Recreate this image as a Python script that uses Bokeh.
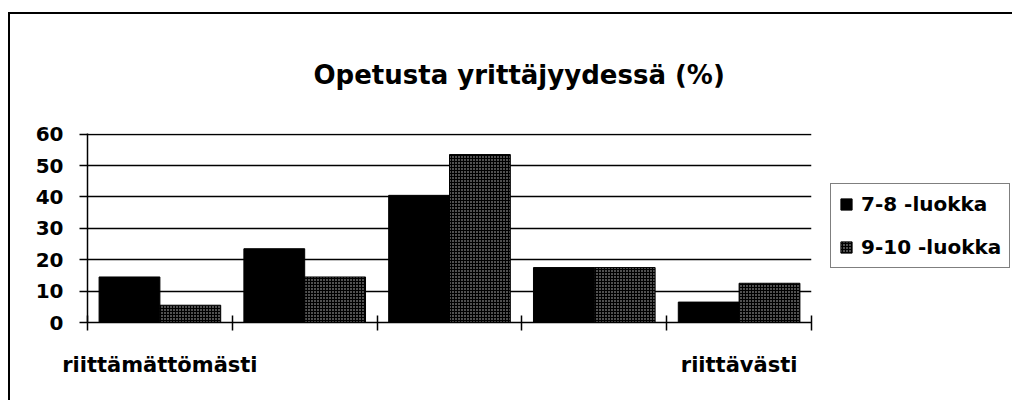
from bokeh.plotting import figure
from bokeh.models import (Legend, LegendItem, FixedTicker, Range1d,
                          ColumnDataSource, LinearAxis, Title)
from bokeh.layouts import row
from bokeh.transform import dodge
from bokeh.embed import file_html
from bokeh.resources import INLINE

# ---- data ----
categories = ["riittämättömästi", "", "", "", "riittävästi"]
series_names = ["7-8 -luokka", "9-10 -luokka"]
grade_7_8 = [14.5, 23.5, 40.5, 17.5, 6.5]
grade_9_10 = [5.5, 14.5, 53.5, 17.5, 12.5]
y_ticks = [0, 10, 20, 30, 40, 50, 60]
title_text = "Opetusta yrittäjyydessä (%)"

FONT = "DejaVu Sans"
BAR_A = dict(fill_color="black", line_color="black", line_width=1)
BAR_B = dict(fill_color="black", line_color="black", line_width=1,
             hatch_pattern="dot", hatch_color="#c8c8c8", hatch_scale=3,
             hatch_weight=1)

n = len(categories)
centers = [i + 0.5 for i in range(n)]
boundaries = list(range(n + 1))
src = ColumnDataSource(dict(x=centers, a=grade_7_8, b=grade_9_10))

# ---------------- main chart ----------------
p = figure(width=803, height=386, title=None,
           x_range=Range1d(0, n), y_range=Range1d(0, 60.2),
           x_axis_location=None,
           output_backend="svg", toolbar_location=None,
           min_border_left=77, min_border_right=2,
           min_border_top=117, min_border_bottom=78)
p.outline_line_color = None
p.background_fill_color = "white"
p.border_fill_color = "white"

title = Title(text=title_text, align="left", offset=226, standoff=87,
              text_font=FONT, text_font_style="bold", text_font_size="26px",
              text_color="black")
p.add_layout(title, "above")

p.vbar(x=dodge("x", -0.21, range=p.x_range), top="a", width=0.42,
       source=src, **BAR_A)
p.vbar(x=dodge("x", 0.21, range=p.x_range), top="b", width=0.42,
       source=src, **BAR_B)

# grid
p.xgrid.visible = False
p.ygrid.ticker = FixedTicker(ticks=y_ticks)
p.ygrid.grid_line_color = "black"
p.ygrid.grid_line_width = 1.3

# y axis
p.yaxis.ticker = FixedTicker(ticks=y_ticks)
p.yaxis.major_label_text_font = FONT
p.yaxis.major_label_text_font_style = "bold"
p.yaxis.major_label_text_font_size = "20px"
p.yaxis.major_label_text_color = "black"
p.yaxis.major_tick_out = 8
p.yaxis.major_tick_in = 0
p.yaxis.minor_tick_out = 0
p.yaxis.minor_tick_in = 0
p.yaxis.major_label_standoff = 16
p.yaxis.axis_line_color = "black"
p.yaxis.axis_line_width = 1.5
p.yaxis.major_tick_line_width = 1.5

# x axis: labels under category centres, tick marks at category boundaries
labelled = [(x, c) for x, c in zip(centers, categories) if c]
xaxis = LinearAxis(
    ticker=FixedTicker(ticks=[x for x, _ in labelled], minor_ticks=boundaries),
    major_label_overrides={x: c for x, c in labelled},
    major_tick_in=0, major_tick_out=0,
    minor_tick_in=7, minor_tick_out=8,
    minor_tick_line_color="black", minor_tick_line_width=1.5,
    axis_line_color="black", axis_line_width=1.5,
    major_label_standoff=22,
    major_label_text_font=FONT, major_label_text_font_style="bold",
    major_label_text_font_size="21px", major_label_text_color="black")
p.add_layout(xaxis, "below")

# ---------------- legend panel ----------------
# legend swatches reuse the series source; the ranges keep the bars out of view
leg = figure(width=199, height=386, output_backend="svg",
             toolbar_location=None, x_axis_location=None,
             y_axis_location=None, min_border_left=0, min_border_right=0,
             min_border_top=0, min_border_bottom=0,
             x_range=Range1d(-20, -19), y_range=Range1d(-20, -19))
leg.outline_line_color = None
leg.xgrid.visible = False
leg.ygrid.visible = False
leg.background_fill_color = "white"
leg.border_fill_color = "white"
k1 = leg.vbar(x="x", top="a", width=0.42, source=src, **BAR_A)
k2 = leg.vbar(x="x", top="b", width=0.42, source=src, **BAR_B)

legend = Legend(items=[LegendItem(label=series_names[0], renderers=[k1]),
                       LegendItem(label=series_names[1], renderers=[k2])],
                location=(17, 54), margin=0, padding=8, spacing=19,
                glyph_width=14, glyph_height=14, label_standoff=8,
                label_text_font=FONT, label_text_font_style="bold",
                label_text_font_size="20px", label_text_color="black",
                border_line_color="black", border_line_width=1.5,
                background_fill_color="white", background_fill_alpha=1)
leg.add_layout(legend)

layout = row(p, leg, spacing=0)
layout.styles = {"border-left": "2px solid black",
                 "border-top": "2px solid black",
                 "margin-left": "8px", "margin-top": "12px"}

open("out.html", "w").write(file_html(layout, INLINE))
